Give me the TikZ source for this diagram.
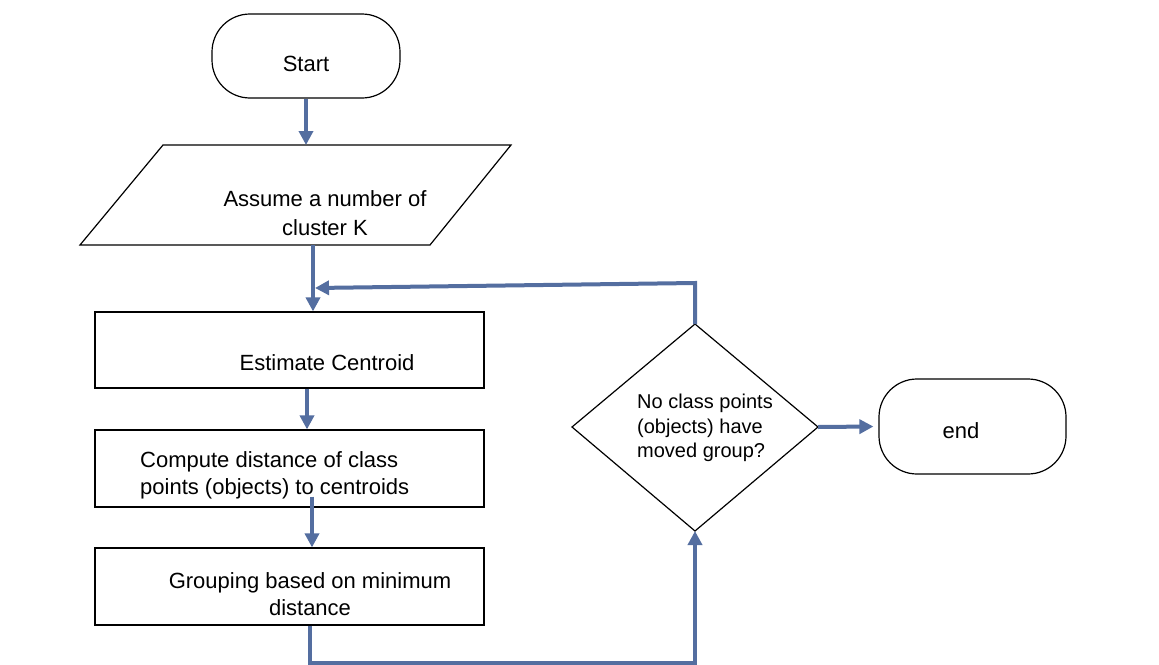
\documentclass[tikz,border=0pt]{standalone}
\usepackage{fontspec}
\setmainfont{Liberation Sans}
\usetikzlibrary{arrows.meta}
\definecolor{flowblue}{RGB}{84,110,160}
\begin{document}
\begin{tikzpicture}[x=1pt,y=-1pt,
  outline/.style={draw=black, line width=1.2pt},
  flow/.style={draw=flowblue, line width=4pt},
  flowarrow/.style={flow, -{Triangle[length=14pt,width=14pt]}},
  lbl/.style={font=\fontsize{22}{27}\selectfont, inner sep=0pt},
  dlbl/.style={font=\fontsize{20}{24.5}\selectfont, inner sep=0pt},
]
\useasboundingbox[fill=white] (0,0) rectangle (1159,664);

% Start
\node[outline, rounded corners=38pt, minimum width=188pt, minimum height=84pt, inner sep=0pt] (start) at (306,56) {};
\node[lbl, anchor=base] (starttxt) at (306,71) {Start};

% Parallelogram
\coordinate (ptl) at (163,145);
\coordinate (ptr) at (511,145);
\coordinate (pbr) at (430,245);
\coordinate (pbl) at (80,245);
\draw[outline] (ptl) -- (ptr) -- (pbr) -- (pbl) -- cycle;
\node[lbl, anchor=base] (paratxt1) at (325,206) {Assume a number of};
\node[lbl, anchor=base] (paratxt2) at (325,235) {cluster K};
\coordinate (pbot) at (313,245);

% Process boxes
\node[outline, minimum width=389pt, minimum height=76pt, inner sep=0pt] (est) at (289.5,350) {};
\node[lbl, anchor=base] (esttxt) at (327,370) {Estimate Centroid};

\node[outline, minimum width=389pt, minimum height=77pt, inner sep=0pt] (compute) at (289.5,468.5) {};
\node[lbl, anchor=base west] (comptxt1) at (140,467) {Compute distance of class};
\node[lbl, anchor=base west] (comptxt2) at (140,494) {points (objects) to centroids};

\node[outline, minimum width=389pt, minimum height=77pt, inner sep=0pt] (group) at (289.5,586.5) {};
\node[lbl, anchor=base] (grptxt1) at (310,588) {Grouping based on minimum};
\node[lbl, anchor=base] (grptxt2) at (310,615) {distance};

% Decision
\coordinate (dtop) at (695,324);
\coordinate (dright) at (818,427);
\coordinate (dbot) at (695,531);
\coordinate (dleft) at (572,427);
\draw[outline] (dtop) -- (dright) -- (dbot) -- (dleft) -- cycle;
\node[dlbl, anchor=base west] (dtxt1) at (637,408) {No class points};
\node[dlbl, anchor=base west] (dtxt2) at (637,433) {(objects) have};
\node[dlbl, anchor=base west] (dtxt3) at (637,457) {moved group?};

% End
\node[outline, rounded corners=38pt, minimum width=187pt, minimum height=95pt, inner sep=0pt] (endbox) at (972.5,426.5) {};
\node[lbl, anchor=base] (endtxt) at (961,438) {end};

% Connectors
\draw[flowarrow] (start.south) -- (start.south |- ptl);
\draw[flowarrow] (pbot) -- (pbot |- est.north);
\coordinate (loopcorner) at (695,283);
\coordinate (loopend) at (315,288);
\draw[flowarrow] (dtop) -- (loopcorner) -- (loopend);
\draw[flowarrow] ([xshift=17.5pt]est.south) -- ([xshift=17.5pt]compute.north);
\draw[flowarrow] ([xshift=22.5pt,yshift=11pt]compute.south) -- ([xshift=22.5pt]group.north);
\draw[flowarrow] ([xshift=20.5pt]group.south) -- ++(0,37) -| (dbot);
\draw[flowarrow] (dright) -- ([xshift=-5pt]endbox.west);
\end{tikzpicture}
\end{document}
